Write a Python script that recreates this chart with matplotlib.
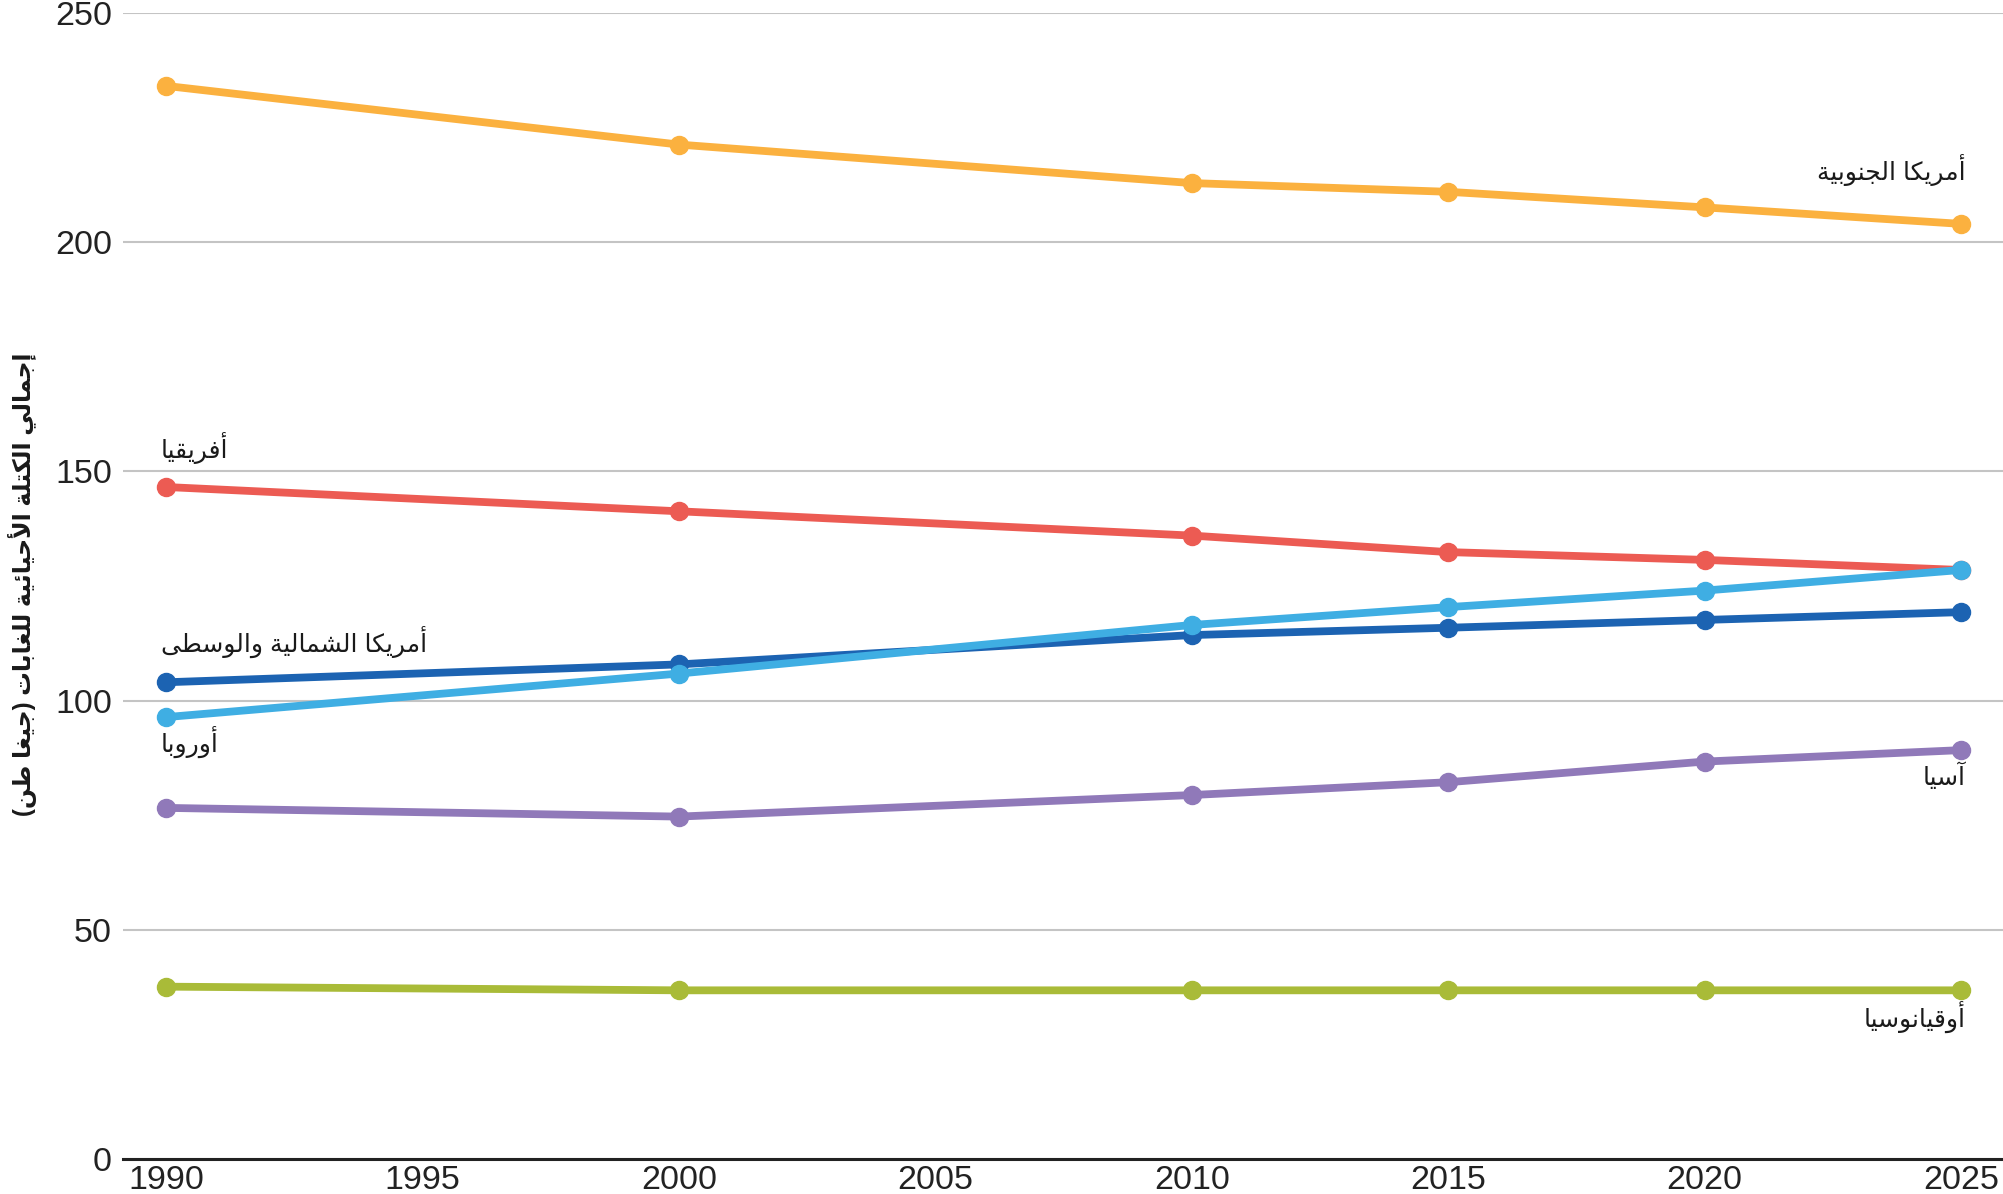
import matplotlib
matplotlib.use('Agg')
import matplotlib.pyplot as plt

years = [1990, 2000, 2010, 2015, 2020, 2025]
south_america = [234.1, 221.3, 212.9, 211.0, 207.6, 204.0]
africa = [146.6, 141.3, 136.0, 132.4, 130.7, 128.5]
north_central_america = [104.0, 107.9, 114.3, 115.9, 117.6, 119.3]
asia = [76.6, 74.7, 79.4, 82.2, 86.7, 89.2]
oceania = [37.6, 36.8, 36.8, 36.8, 36.8, 36.8]
europe = [96.4, 105.9, 116.5, 120.4, 124.0, 128.5]

x_ticks = [1990, 1995, 2000, 2005, 2010, 2015, 2020, 2025]
y_ticks = [0, 50, 100, 150, 200, 250]
y_label = 'إجمالي الكتلة الأحيائية للغابات (جيغا طن)'

# --- minimal arabic shaping (matplotlib has no text shaping) ---
# iso, fin, ini, med ; None where letter does not join forward
FORMS = {
    'ء': (0xFE80, None, None, None), 'آ': (0xFE81, 0xFE82, None, None),
    'أ': (0xFE83, 0xFE84, None, None), 'ؤ': (0xFE85, 0xFE86, None, None),
    'إ': (0xFE87, 0xFE88, None, None), 'ئ': (0xFE89, 0xFE8A, 0xFE8B, 0xFE8C),
    'ا': (0xFE8D, 0xFE8E, None, None), 'ب': (0xFE8F, 0xFE90, 0xFE91, 0xFE92),
    'ة': (0xFE93, 0xFE94, None, None), 'ت': (0xFE95, 0xFE96, 0xFE97, 0xFE98),
    'ث': (0xFE99, 0xFE9A, 0xFE9B, 0xFE9C), 'ج': (0xFE9D, 0xFE9E, 0xFE9F, 0xFEA0),
    'ح': (0xFEA1, 0xFEA2, 0xFEA3, 0xFEA4), 'خ': (0xFEA5, 0xFEA6, 0xFEA7, 0xFEA8),
    'د': (0xFEA9, 0xFEAA, None, None), 'ذ': (0xFEAB, 0xFEAC, None, None),
    'ر': (0xFEAD, 0xFEAE, None, None), 'ز': (0xFEAF, 0xFEB0, None, None),
    'س': (0xFEB1, 0xFEB2, 0xFEB3, 0xFEB4), 'ش': (0xFEB5, 0xFEB6, 0xFEB7, 0xFEB8),
    'ص': (0xFEB9, 0xFEBA, 0xFEBB, 0xFEBC), 'ض': (0xFEBD, 0xFEBE, 0xFEBF, 0xFEC0),
    'ط': (0xFEC1, 0xFEC2, 0xFEC3, 0xFEC4), 'ظ': (0xFEC5, 0xFEC6, 0xFEC7, 0xFEC8),
    'ع': (0xFEC9, 0xFECA, 0xFECB, 0xFECC), 'غ': (0xFECD, 0xFECE, 0xFECF, 0xFED0),
    'ف': (0xFED1, 0xFED2, 0xFED3, 0xFED4), 'ق': (0xFED5, 0xFED6, 0xFED7, 0xFED8),
    'ك': (0xFED9, 0xFEDA, 0xFEDB, 0xFEDC), 'ل': (0xFEDD, 0xFEDE, 0xFEDF, 0xFEE0),
    'م': (0xFEE1, 0xFEE2, 0xFEE3, 0xFEE4), 'ن': (0xFEE5, 0xFEE6, 0xFEE7, 0xFEE8),
    'ه': (0xFEE9, 0xFEEA, 0xFEEB, 0xFEEC), 'و': (0xFEED, 0xFEEE, None, None),
    'ى': (0xFEEF, 0xFEF0, None, None), 'ي': (0xFEF1, 0xFEF2, 0xFEF3, 0xFEF4),
}
LAM_ALEF = {'آ': (0xFEF5, 0xFEF6), 'أ': (0xFEF7, 0xFEF8),
            'إ': (0xFEF9, 0xFEFA), 'ا': (0xFEFB, 0xFEFC)}
MIRROR = {'(': ')', ')': '('}


def joins_forward(c):
    return c in FORMS and FORMS[c][2] is not None


def shape(text):
    out = []
    i = 0
    n = len(text)
    while i < n:
        c = text[i]
        prev = text[i - 1] if i > 0 else ''
        if c not in FORMS:
            out.append(MIRROR.get(c, c))
            i += 1
            continue
        back = joins_forward(prev) and i > 0
        if c == 'ل' and i + 1 < n and text[i + 1] in LAM_ALEF:
            iso, fin = LAM_ALEF[text[i + 1]]
            out.append(chr(fin if back else iso))
            i += 2
            continue
        nxt = text[i + 1] if i + 1 < n else ''
        fwd = joins_forward(c) and nxt in FORMS
        iso, fin, ini, med = FORMS[c]
        if back and fwd:
            code = med
        elif back:
            code = fin
        elif fwd:
            code = ini
        else:
            code = iso
        out.append(chr(code))
        i += 1
    return ''.join(out[::-1])


plt.rcParams['font.family'] = ['Liberation Sans', 'DejaVu Sans']

fig = plt.figure(figsize=(20.03, 11.94), dpi=100)
ax = fig.add_axes([0.0614, 0.0293, 0.9386, 0.9598])

series = [
    (south_america, '#FBB13F'),
    (africa, '#EC5B53'),
    (north_central_america, '#1C63B2'),
    (asia, '#9079B9'),
    (oceania, '#A9BB38'),
    (europe, '#3FAEE3'),
]
for vals, col in series:
    ax.plot(years, vals, color=col, lw=5.6, marker='o', markersize=13,
            solid_capstyle='round', zorder=3)

ax.set_xlim(1989.16, 2025.82)
ax.set_ylim(0, 250)
ax.set_xticks(x_ticks)
ax.set_yticks(y_ticks)
ax.tick_params(axis='both', length=0, labelsize=24.5, colors='#222222')
ax.tick_params(axis='x', pad=4)
ax.tick_params(axis='y', pad=8)
ax.yaxis.grid(True, color='#c4c4c4', lw=1.5)
ax.set_axisbelow(True)
for s in ['top', 'right', 'left']:
    ax.spines[s].set_visible(False)
ax.spines['bottom'].set_color('#222222')
ax.spines['bottom'].set_linewidth(2.2)
ax.spines['bottom'].set_zorder(4)

lab_font = 18
ax.text(2025.1, 215.7, shape('أمريكا الجنوبية'), ha='right', va='center', fontsize=lab_font, color='#1a1a1a')
ax.text(1989.9, 155.0, shape('أفريقيا'), ha='left', va='center', fontsize=lab_font, color='#1a1a1a')
ax.text(1989.9, 112.9, shape('أمريكا الشمالية والوسطى'), ha='left', va='center', fontsize=lab_font, color='#1a1a1a')
ax.text(1989.9, 91.1, shape('أوروبا'), ha='left', va='center', fontsize=lab_font, color='#1a1a1a')
ax.text(2025.1, 83.6, shape('آسيا'), ha='right', va='center', fontsize=lab_font, color='#1a1a1a')
ax.text(2025.1, 30.9, shape('أوقيانوسيا'), ha='right', va='center', fontsize=lab_font, color='#1a1a1a')

fig.text(0.011, 0.511, shape(y_label), rotation=90, ha='center', va='center',
         fontsize=17, fontweight='bold', color='#1a1a1a')

fig.savefig('out.png', dpi=100)
plt.close(fig)
